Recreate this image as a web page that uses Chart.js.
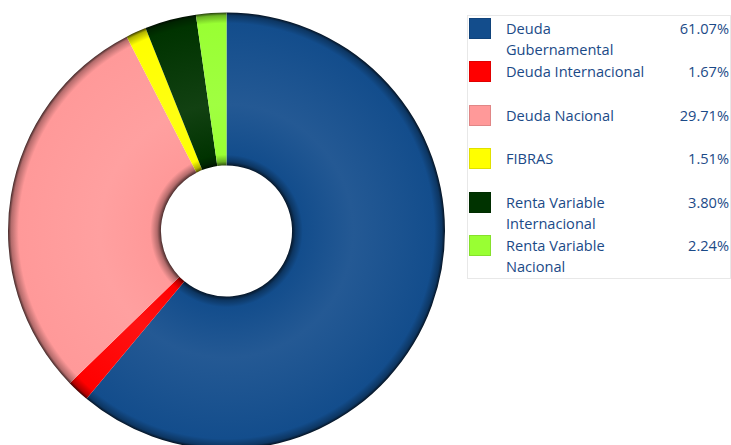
<!DOCTYPE html>
<html>
<head>
<meta charset="utf-8">
<script src="https://cdn.jsdelivr.net/npm/chart.js@4.4.0/dist/chart.umd.min.js"></script>
<style>
    html, body { margin: 0; padding: 0; background: #fff; overflow: hidden; }
    body { width: 731px; height: 445px; position: relative; }
    #wrap { position: absolute; left: 0; top: 0; width: 453px; height: 450px; }
    #legend {
        position: absolute; left: 467px; top: 15px; width: 262px; height: 262px;
        border: 1px solid #e8e8e8; font-family: "Open Sans", sans-serif; font-size: 14.6px;
        color: #1b4a87;
    }
    .row { position: absolute; left: 0; right: 0; height: 43px; }
    .sw { position: absolute; left: 1px; top: 1px; width: 22px; height: 21px; box-sizing: border-box; border: 1px solid rgba(0,0,0,0.12); }
    .name { position: absolute; left: 38px; top: 1px; width: 150px; line-height: 21px; }
    .val { position: absolute; right: 1px; top: 1px; line-height: 21px; text-align: right; }
</style>
</head>
<body>
<div id="wrap"><canvas id="donut"></canvas></div>
<div id="legend"></div>
<script>
const categories = ['Deuda Gubernamental', 'Deuda Internacional', 'Deuda Nacional', 'FIBRAS', 'Renta Variable Internacional', 'Renta Variable Nacional'];
const shares = [61.07, 1.67, 29.71, 1.51, 3.80, 2.24];
const colors = ['#134d8c', '#ff0000', '#ff9999', '#ffff00', '#003300', '#99ff33'];
const rowTops = [1, 44, 88, 131, 175, 218];

function mix(hex, target, t) {
    const n = parseInt(hex.slice(1), 16);
    const r = (n >> 16) & 255, g = (n >> 8) & 255, b = n & 255;
    const m = c => Math.round(c + (target - c) * t);
    return `rgb(${m(r)},${m(g)},${m(b)})`;
}

// torus-like shading for each slice
function shade(context) {
    const chart = context.chart;
    const area = chart.chartArea;
    const base = colors[context.dataIndex];
    if (!area) return base;
    const cx = (area.left + area.right) / 2;
    const cy = (area.top + area.bottom) / 2;
    const outer = Math.min(area.right - area.left, area.bottom - area.top) / 2;
    const inner = outer * 0.3;
    const g = chart.ctx.createRadialGradient(cx, cy, inner, cx, cy, outer);
    g.addColorStop(0, mix(base, 0, 0.7));
    g.addColorStop(0.025, mix(base, 0, 0.3));
    g.addColorStop(0.07, base);
    g.addColorStop(0.4, mix(base, 255, 0.07));
    g.addColorStop(0.93, base);
    g.addColorStop(0.98, mix(base, 0, 0.3));
    g.addColorStop(1, mix(base, 0, 0.75));
    return g;
}

new Chart(document.getElementById('donut').getContext('2d'), {
    type: 'doughnut',
    data: {
        labels: categories,
        datasets: [{
            data: shares,
            backgroundColor: shade,
            borderWidth: 0
        }]
    },
    options: {
        responsive: true,
        maintainAspectRatio: false,
        animation: false,
        cutout: '30%',
        layout: { padding: { left: 8, right: 8, top: 12, bottom: 0 } },
        plugins: {
            legend: { display: false },
            tooltip: { enabled: false }
        }
    }
});

// html legend built from the same arrays
const legend = document.getElementById('legend');
categories.forEach((name, i) => {
    const row = document.createElement('div');
    row.className = 'row';
    row.style.top = rowTops[i] + 'px';
    row.innerHTML = `<div class="sw" style="background:${colors[i]}"></div>
        <div class="name">${name}</div>
        <div class="val">${shares[i].toFixed(2)}%</div>`;
    legend.appendChild(row);
});
</script>
</body>
</html>
